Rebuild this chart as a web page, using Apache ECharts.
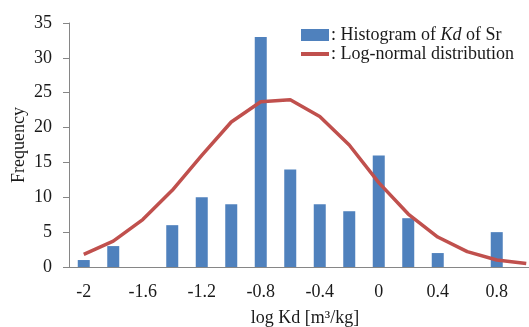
<!DOCTYPE html>
<html>
<head>
<meta charset="utf-8">
<script src="https://cdn.jsdelivr.net/npm/echarts@6/dist/echarts.min.js"></script>
<style>
  html, body { margin: 0; padding: 0; background: #fff; }
  #chart { width: 529px; height: 327px; }
</style>
</head>
<body>
<div id="chart"></div>
<script>
// bins of log Kd, step 0.2
const categories = ['-2', '-1.8', '-1.6', '-1.4', '-1.2', '-1', '-0.8', '-0.6', '-0.4', '-0.2', '0', '0.2', '0.4', '0.6', '0.8', '1'];
// only every other bin is labelled, the last one falls off the picture
const tickLabels = ['-2', '', '-1.6', '', '-1.2', '', '-0.8', '', '-0.4', '', '0', '', '0.4', '', '0.8', ''];
const histogram = [1, 3, 0, 6, 10, 9, 33, 14, 9, 8, 16, 7, 2, 0, 5, 0];
const logNormal = [1.8, 3.7, 6.8, 11.0, 16.0, 20.8, 23.7, 24.0, 21.6, 17.5, 12.1, 7.6, 4.3, 2.2, 1.0, 0.5];
const yTicks = { min: 0, max: 35, interval: 5 };

const font = '"Liberation Serif", "Times New Roman", serif';
const chart = echarts.init(document.getElementById('chart'));

chart.setOption({
  animation: false,
  textStyle: { fontFamily: font },
  // plot area runs past the right edge, the last bin is cut off
  grid: { left: 69, width: 472, top: 23, bottom: 60, outerBoundsMode: 'none', containLabel: false },
  legend: {
    orient: 'vertical',
    left: 299,
    top: 26,
    itemWidth: 28,
    itemHeight: 12,
    itemGap: 1,
    padding: 0,
    textStyle: {
      fontFamily: font,
      fontSize: 18,
      color: '#1a1a1a',
      padding: [0, 0, 0, -3],
      lineHeight: 18,
      rich: {
        i: { fontFamily: font, fontSize: 18, fontStyle: 'italic', color: '#1a1a1a' }
      }
    },
    formatter: name => name === 'hist' ? ': Histogram of {i|Kd} of Sr' : ': Log-normal distribution',
    data: [
      { name: 'hist', icon: 'rect', itemStyle: { borderWidth: 0 } },
      { name: 'lognormal', itemStyle: { opacity: 0 }, lineStyle: { width: 4 } }
    ]
  },
  xAxis: {
    type: 'category',
    data: categories,
    name: 'log Kd [m³/kg]',
    nameLocation: 'middle',
    nameGap: 42,
    nameMoveOverlap: false,
    nameTextStyle: { fontFamily: font, fontSize: 18, color: '#1a1a1a' },
    axisLine: { lineStyle: { color: '#868686', width: 1 } },
    axisTick: { show: false },
    axisLabel: {
      interval: 0,
      margin: 16,
      fontFamily: font,
      fontSize: 18,
      color: '#1a1a1a',
      formatter: (v, i) => tickLabels[i]
    }
  },
  yAxis: {
    type: 'value',
    min: yTicks.min,
    max: yTicks.max,
    interval: yTicks.interval,
    name: 'Frequency',
    nameLocation: 'middle',
    nameGap: 41,
    nameMoveOverlap: false,
    nameTextStyle: { fontFamily: font, fontSize: 18, color: '#1a1a1a' },
    axisLine: { show: true, lineStyle: { color: '#868686', width: 1 } },
    axisTick: { show: true, length: 6, lineStyle: { color: '#868686' } },
    splitLine: { show: false },
    axisLabel: { margin: 17, fontFamily: font, fontSize: 18, color: '#1a1a1a' }
  },
  series: [
    {
      name: 'hist',
      type: 'bar',
      data: histogram,
      barWidth: 12,
      itemStyle: { color: '#4f81bd' }
    },
    {
      name: 'lognormal',
      type: 'line',
      data: logNormal,
      symbol: 'none',
      lineStyle: { color: '#c0504d', width: 3.5 },
      itemStyle: { color: '#c0504d' },
      z: 3
    }
  ]
});
</script>
</body>
</html>
